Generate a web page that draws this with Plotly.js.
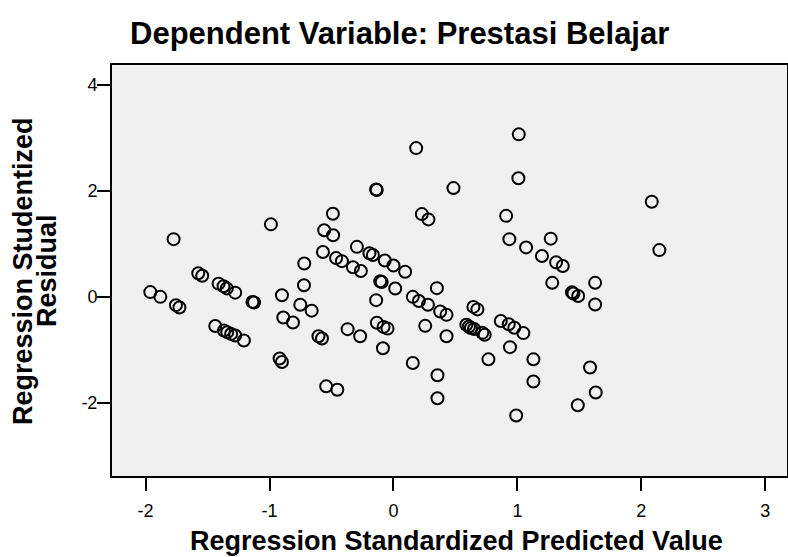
<!DOCTYPE html>
<html>
<head>
<meta charset="utf-8">
<script src="https://cdn.plot.ly/plotly-3.0.1.min.js"></script>
<style>html,body{margin:0;padding:0;background:#fff;}#chart{width:788px;height:557px;}</style>
</head>
<body>
<div id="chart"></div>
<script>
// Regression Standardized Predicted Value (x) and Regression Studentized Residual (y)
const predicted = [
  -1.962, -1.881, -1.774, -1.755, -1.727, -1.575, -1.543, -1.411, -1.371, -1.345,
  -1.277, -1.438, -1.368, -1.341, -1.310, -1.277, -1.207, -1.138, -1.125, -0.989,
  -0.919, -0.900, -0.900, -0.889, -0.811, -0.752, -0.660, -0.722, -0.720, -0.605,
  -0.577, -0.543, -0.453, -0.569, -0.559, -0.489, -0.487, -0.463, -0.416, -0.370,
  -0.295, -0.327, -0.263, -0.269, -0.194, -0.166, -0.140, -0.135, -0.140, -0.134,
  -0.080, -0.048, -0.085, -0.107, -0.095, -0.070, 0.000, 0.094, 0.014, 0.156,
  0.156, 0.205, 0.278, 0.183, 0.229, 0.282, 0.256, 0.350, 0.377, 0.428,
  0.428, 0.355, 0.355, 0.484, 0.645, 0.677, 0.588, 0.609, 0.625, 0.650,
  0.717, 0.736, 0.766, 0.866, 0.930, 0.975, 1.048, 0.940, 0.990, 0.909,
  0.935, 1.011, 1.008, 1.070, 1.129, 1.129, 1.198, 1.269, 1.312, 1.366,
  1.281, 1.440, 1.452, 1.490, 1.627, 1.627, 1.586, 1.632, 1.487, 2.084,
  2.145
];
const residual = [
  0.090, 0.000, 1.090, -0.157, -0.200, 0.447, 0.400, 0.250, 0.200, 0.160,
  0.080, -0.550, -0.637, -0.667, -0.700, -0.730, -0.825, -0.095, -0.106, 1.370,
  -1.165, -1.230, 0.030, -0.390, -0.485, -0.150, -0.260, 0.220, 0.630, -0.743,
  -0.787, -1.690, -1.755, 0.848, 1.258, 1.570, 1.163, 0.732, 0.675, -0.610,
  0.945, 0.560, 0.488, -0.743, 0.825, 0.790, 2.030, 2.020, -0.062, -0.490,
  -0.567, -0.600, -0.970, 0.295, 0.280, 0.687, 0.593, 0.473, 0.159, -1.250,
  0.000, -0.078, -0.150, 2.810, 1.563, 1.463, -0.548, 0.165, -0.277, -0.340,
  -0.743, -1.480, -1.915, 2.055, -0.190, -0.237, -0.528, -0.560, -0.590, -0.608,
  -0.680, -0.715, -1.180, -0.457, -0.518, -0.583, -0.685, -0.950, -2.240, 1.530,
  1.090, 3.070, 2.240, 0.934, -1.180, -1.600, 0.772, 1.100, 0.652, 0.583,
  0.265, 0.085, 0.064, 0.016, 0.265, -0.144, -1.335, -1.807, -2.047, 1.796,
  0.883
];
const xTicks = [-2, -1, 0, 1, 2, 3];
const yTicks = [-2, 0, 2, 4];
const chartTitle = "Dependent Variable: Prestasi Belajar";
const xTitle = "Regression Standardized Predicted Value";
const yTitleLines = ["Regression Studentized", "Residual"];

const FONT = "Liberation Sans, Arial, Helvetica, sans-serif";

const trace = {
  type: "scatter",
  mode: "markers",
  x: predicted,
  y: residual,
  marker: {
    symbol: "circle-open",
    size: 12,
    color: "#000",
    line: {width: 2, color: "#000"}
  },
  hoverinfo: "x+y"
};

// plot area in pixels: left 112, right 787, top 65, bottom 476
const PL = 112, PW = 675, PT = 65, PH = 411;
const px = v => (v - PL) / PW;           // pixel x -> paper x
const py = v => (PT + PH - v) / PH;      // pixel y -> paper y

const axisCommon = {
  ticks: "outside",
  ticklen: 13,
  tickwidth: 2,
  tickcolor: "#000",
  showline: true,
  linecolor: "#000",
  linewidth: 2,
  mirror: true,
  showgrid: false,
  zeroline: false,
  tickfont: {size: 18, family: FONT, color: "#000"}
};

const layout = {
  width: 788,
  height: 557,
  margin: {l: PL, r: 788 - PL - PW, t: PT, b: 557 - PT - PH, pad: 0},
  paper_bgcolor: "#ffffff",
  plot_bgcolor: "#f0f0f0",
  showlegend: false,
  font: {family: FONT, color: "#000"},
  xaxis: Object.assign({}, axisCommon, {
    range: [-2.271, 3.175],
    tickvals: xTicks,
    ticktext: xTicks.map(String),
    ticklabelstandoff: 4
  }),
  yaxis: Object.assign({}, axisCommon, {
    range: [-3.384, 4.38],
    tickvals: yTicks,
    ticktext: yTicks.map(String),
    ticklabelstandoff: -4
  }),
  annotations: [
    {
      text: "<b>" + chartTitle + "</b>",
      xref: "paper", yref: "paper",
      x: px(399), y: py(34),
      xanchor: "center", yanchor: "middle",
      showarrow: false,
      font: {size: 31, family: FONT, color: "#000"}
    },
    {
      text: "<b>" + xTitle + "</b>",
      xref: "paper", yref: "paper",
      x: px(456), y: py(541),
      xanchor: "center", yanchor: "middle",
      showarrow: false,
      font: {size: 27, family: FONT, color: "#000"}
    },
    {
      text: "<b>" + yTitleLines[0] + "</b>",
      xref: "paper", yref: "paper",
      x: px(23), y: py(271),
      xanchor: "center", yanchor: "middle",
      textangle: -90,
      showarrow: false,
      font: {size: 27, family: FONT, color: "#000"}
    },
    {
      text: "<b>" + yTitleLines[1] + "</b>",
      xref: "paper", yref: "paper",
      x: px(47), y: py(271),
      xanchor: "center", yanchor: "middle",
      textangle: -90,
      showarrow: false,
      font: {size: 27, family: FONT, color: "#000"}
    }
  ]
};

Plotly.newPlot("chart", [trace], layout, {displayModeBar: false, staticPlot: true});
</script>
</body>
</html>
